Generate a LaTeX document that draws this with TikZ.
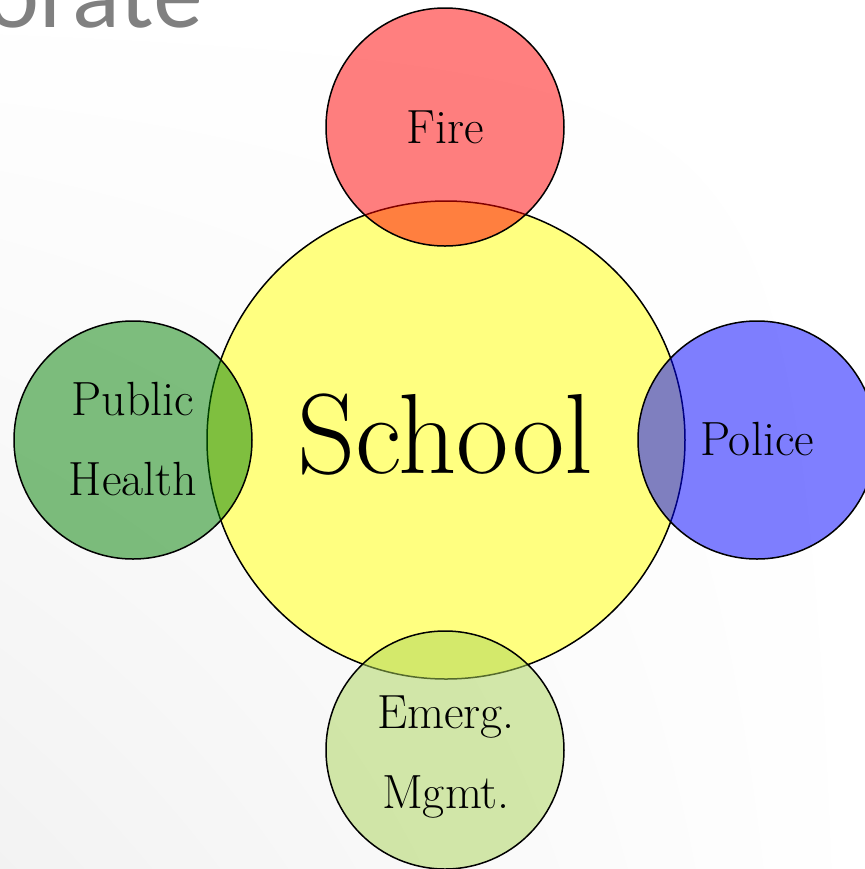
\documentclass[tikz,border=0pt]{standalone}
\usepackage{fontspec}
\usetikzlibrary{shadings}
\newfontfamily\titlefont{Lato}
\definecolor{titlegray}{RGB}{128,128,128}
\definecolor{phgreen}{RGB}{0,128,0}
\definecolor{emgreen}{RGB}{170,212,88}
\definecolor{schoolyellow}{RGB}{255,255,128}
\begin{document}
\begin{tikzpicture}[x=0.5pt,y=-0.5pt,
  bubble/.style={circle, draw=black, line width=0.75pt, fill opacity=0.5, text opacity=1, inner sep=0pt},
  small/.style={minimum size=119pt},
  lbl/.style={font=\fontsize{24}{40}\selectfont, align=center, inner sep=0pt}]
\useasboundingbox (0,0) rectangle (865,869);
\shade[lower left=black!5, upper left=white, upper right=white, lower right=white] (0,0) rectangle (865,869);
\node[font=\titlefont\fontsize{47}{47}\selectfont, text=titlegray, anchor=base east, inner sep=0pt] (title) at (203,27) {orate};
\node[circle, draw=black, line width=0.75pt, inner sep=0pt, fill=schoolyellow, minimum size=239pt] (school) at (446,440) {};
\node[bubble, small, fill=red] (fire) at (445,127) {};
\node[bubble, small, fill=phgreen] (health) at (133,440) {};
\node[bubble, small, fill=blue] (police) at (757,440) {};
\node[bubble, small, fill=emgreen] (emerg) at (445,750) {};
\node[font=\fontsize{57}{57}\selectfont, inner sep=0pt, anchor=base] (schooltxt) at (445,473) {School};
\node[lbl, anchor=base] (firetxt) at (445,143) {Fire};
\node[lbl, anchor=base] (policetxt) at (757,455) {Police};
\node[lbl, anchor=base] (healthtxt) at (133,495) {Public\\Health};
\node[lbl, anchor=base] (emergtxt) at (446,808) {Emerg.\\Mgmt.};
\end{tikzpicture}
\end{document}
